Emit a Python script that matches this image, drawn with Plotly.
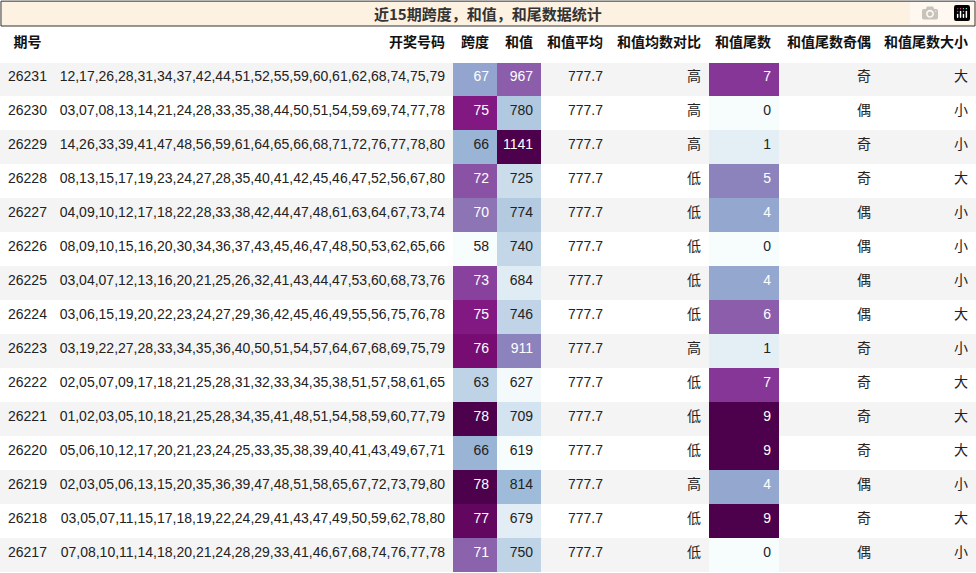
import plotly.graph_objects as go
from plotly.colors import sample_colorscale

periods = ["26231","26230","26229","26228","26227","26226","26225","26224","26223","26222","26221","26220","26219","26218","26217"]
numbers = [
"12,17,26,28,31,34,37,42,44,51,52,55,59,60,61,62,68,74,75,79",
"03,07,08,13,14,21,24,28,33,35,38,44,50,51,54,59,69,74,77,78",
"14,26,33,39,41,47,48,56,59,61,64,65,66,68,71,72,76,77,78,80",
"08,13,15,17,19,23,24,27,28,35,40,41,42,45,46,47,52,56,67,80",
"04,09,10,12,17,18,22,28,33,38,42,44,47,48,61,63,64,67,73,74",
"08,09,10,15,16,20,30,34,36,37,43,45,46,47,48,50,53,62,65,66",
"03,04,07,12,13,16,20,21,25,26,32,41,43,44,47,53,60,68,73,76",
"03,06,15,19,20,22,23,24,27,29,36,42,45,46,49,55,56,75,76,78",
"03,19,22,27,28,33,34,35,36,40,50,51,54,57,64,67,68,69,75,79",
"02,05,07,09,17,18,21,25,28,31,32,33,34,35,38,51,57,58,61,65",
"01,02,03,05,10,18,21,25,28,34,35,41,48,51,54,58,59,60,77,79",
"05,06,10,12,17,20,21,23,24,25,33,35,38,39,40,41,43,49,67,71",
"02,03,05,06,13,15,20,35,36,39,47,48,51,58,65,67,72,73,79,80",
"03,05,07,11,15,17,18,19,22,24,29,41,43,47,49,50,59,62,78,80",
"07,08,10,11,14,18,20,21,24,28,29,33,41,46,67,68,74,76,77,78"]
spans = [67,75,66,72,70,58,73,75,76,63,78,66,78,77,71]
sums = [967,780,1141,725,774,740,684,746,911,627,709,619,814,679,750]
avg = ["777.7"]*15
cmp_ = ["高","高","高","低","低","低","低","低","高","低","低","低","高","低","低"]
tails = [7,0,1,5,4,0,4,6,1,7,9,9,4,9,0]
parity = ["奇","偶","奇","奇","偶","偶","偶","偶","奇","奇","奇","奇","偶","奇","偶"]
size = ["大","小","小","大","小","小","小","大","小","大","大","大","小","大","小"]
headers = ["期号","开奖号码","跨度","和值","和值平均","和值均数对比","和值尾数","和值尾数奇偶","和值尾数大小"]

def colorize(vals):
    lo, hi = min(vals), max(vals)
    ns = [(v-lo)/(hi-lo) for v in vals]
    fills = sample_colorscale("BuPu", ns)
    fonts = ["white" if n > 0.42 else "#222" for n in ns]
    return fills, fonts

zebra = ["#f4f4f4" if i % 2 == 0 else "white" for i in range(15)]
sf, sfc = colorize(spans)
hf, hfc = colorize(sums)
tf, tfc = colorize(tails)
dark = ["#222"]*15

fig = go.Figure(go.Table(
    columnwidth=[55,398,44,44,70,98,70,100,97],
    header=dict(values=["<b>%s</b>" % h for h in headers],
                fill_color="white", line_color="white", height=36,
                align=["center","right"]+["right"]*7,
                font=dict(size=14, color="#111", family="Liberation Sans, Noto Sans CJK SC")),
    cells=dict(values=[periods, numbers, spans, sums, avg, cmp_, tails, parity, size],
               fill_color=[zebra, zebra, sf, hf, zebra, zebra, tf, zebra, zebra],
               font=dict(size=14, family="Liberation Sans, Noto Sans CJK SC",
                         color=[dark, dark, sfc, hfc, dark, dark, tfc, dark, dark]),
               line_color="rgba(0,0,0,0)", height=34,
               align=["left","right"]+["right"]*7),
    domain=dict(x=[0,1], y=[0, 1-26/573])))

fig.add_shape(type="rect", xref="paper", yref="paper", x0=0.001, x1=0.999, y0=1-26/573, y1=0.998,
              fillcolor="#fdf1e1", line=dict(color="#333", width=1))
fig.add_annotation(text="<b>近15期跨度，和值，和尾数据统计</b>", xref="paper", yref="paper",
                   x=0.5, y=1-13/573, yanchor="middle", xanchor="center", showarrow=False,
                   font=dict(size=15, color="#333", family="Noto Sans CJK SC"))
fig.update_layout(width=976, height=573, margin=dict(l=0, r=0, t=0, b=0),
                  paper_bgcolor="white")
fig.write_html("out.html", post_script="document.body.style.margin='0';document.body.style.overflow='hidden';")
